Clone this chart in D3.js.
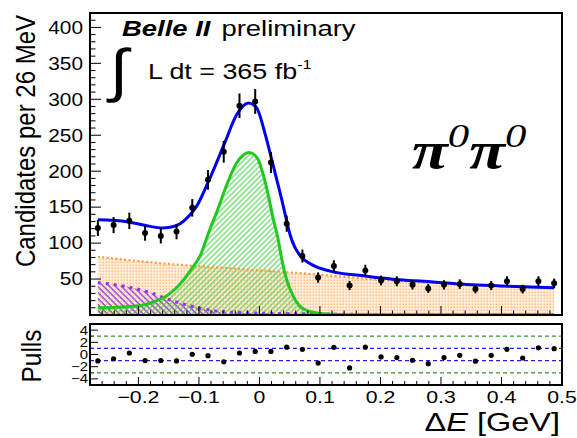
<!DOCTYPE html>
<html>
<head>
<meta charset="utf-8">
<script src="https://cdn.jsdelivr.net/npm/d3@7"></script>
<style>
  html, body { margin: 0; padding: 0; background: #fff; }
  svg { display: block; }
  text { font-family: "Liberation Sans", Arial, Helvetica, sans-serif; fill: #000; }
</style>
</head>
<body>
<svg id="chart" width="577" height="438"></svg>
<script>
// ΔE bin centres (26 MeV bins) and observed candidate counts
const binCenters = [-0.267, -0.241, -0.215, -0.189, -0.163, -0.137, -0.111, -0.085, -0.059, -0.033,
                    -0.007, 0.019, 0.045, 0.071, 0.097, 0.123, 0.149, 0.175, 0.201, 0.227,
                    0.253, 0.279, 0.305, 0.331, 0.357, 0.383, 0.409, 0.435, 0.461, 0.487];
const counts = [121, 125, 131, 114, 110, 116, 149, 188, 227, 291,
                297, 212, 127, 82, 52, 68, 41, 62, 48, 47,
                42, 37, 42, 43, 36, 41, 47, 36, 47, 44];
const countErrors = [11.0, 11.2, 11.4, 10.7, 10.5, 10.8, 12.2, 13.7, 15.1, 17.1,
                     17.2, 14.6, 11.3, 9.1, 7.2, 8.2, 6.4, 7.9, 6.9, 6.9,
                     6.5, 6.1, 6.5, 6.6, 6.0, 6.4, 6.9, 6.0, 6.9, 6.6];
const pulls = [-1.05, -0.7, 0.25, -1.0, -1.0, -1.05, 0.03, -0.2, -1.2, 0.25,
               0.5, 0.5, 1.2, 0.85, -1.4, 1.17, -2.2, 1.2, -0.4, -0.5,
               -0.94, -1.5, -0.5, -0.13, -1.1, -0.13, 0.85, -0.57, 1.1, 0.95];

// Fit components sampled along ΔE: [ΔE, candidates per bin]
const totalFit = [[-0.267,132.5],[-0.2415,131.7],[-0.214,129],[-0.186,124],[-0.159,121],[-0.142,123],
                  [-0.131,127],[-0.115,139],[-0.104,151],[-0.082,190],[-0.057,240],[-0.038,278],
                  [-0.018,295],[-0.0045,288],[0.009,253],[0.023,207],[0.037,160],[0.045,131],
                  [0.0505,112],[0.058,95],[0.067,83],[0.089,69],[0.117,61],[0.177,54],[0.232,49],
                  [0.287,46],[0.343,42.5],[0.398,40.5],[0.487,38]];
const signalFit = [[-0.267,10],[-0.2,13],[-0.173,19],[-0.151,28],[-0.129,45],[-0.113,63],[-0.096,86],
                   [-0.088,105],[-0.082,119],[-0.071,142],[-0.055,179],[-0.038,211],[-0.024,224],
                   [-0.018,226],[-0.010,224],[-0.002,216],[0.007,193],[0.015,165],[0.023,133],
                   [0.031,105],[0.037,77],[0.045,49],[0.056,26],[0.067,12],[0.083,5],[0.11,1.5],
                   [0.15,0.5],[0.3,0.3],[0.487,0.2]];
const bbBackground = [[-0.267,45],[-0.223,40],[-0.184,32],[-0.146,20.5],[-0.1015,10],[-0.065,5],
                      [-0.016,3],[0.05,2],[0.12,1.2],[0.25,0.5],[0.487,0.3]];
const continuum = [[-0.267,81],[-0.15,71],[-0.03,64],[0.07,58],[0.2,49],[0.35,42],[0.487,37.5]];

const xTicks = [-0.2, -0.1, 0, 0.1, 0.2, 0.3, 0.4, 0.5];
const yTicks = [50, 100, 150, 200, 250, 300, 350, 400];
const pullTicks = [4, 2, 0, -2, -4];
const pullBands = [3, 1, -1, -3];

const svg = d3.select("#chart");
const left = 90, right = 562, mainTop = 13, mainBottom = 315, pullTop = 324, pullBottom = 385;
const SX = 1.19;   // wide Helvetica-like lettering
const at = (px, py, sx = SX) => `translate(${px},${py}) scale(${sx},1)`;

const x = d3.scaleLinear().domain([-0.28, 0.5]).range([left, right]);
const y = d3.scaleLinear().domain([0, 420]).range([mainBottom, mainTop]);
const yp = d3.scaleLinear().domain([-5, 5]).range([pullBottom, pullTop]);

const defs = svg.append("defs");
defs.append("clipPath").attr("id", "mainClip").append("rect")
  .attr("x", left).attr("y", mainTop).attr("width", right - left).attr("height", mainBottom - mainTop);

// Fill patterns
const pOr = defs.append("pattern").attr("id", "orangeDots").attr("patternUnits", "userSpaceOnUse")
  .attr("width", 3).attr("height", 3);
pOr.append("rect").attr("width", 3).attr("height", 3).attr("fill", "#ffefe0");
pOr.append("rect").attr("x", 0.5).attr("y", 0.5).attr("width", 1.6).attr("height", 1.6).attr("fill", "#ffc28a");

const pGr = defs.append("pattern").attr("id", "greenHatch").attr("patternUnits", "userSpaceOnUse")
  .attr("width", 3.8).attr("height", 3.8).attr("patternTransform", "rotate(45)");
pGr.append("line").attr("x1", 0.8).attr("y1", 0).attr("x2", 0.8).attr("y2", 3.8)
  .attr("stroke", "#3ccc3c").attr("stroke-width", 1);

const pPu = defs.append("pattern").attr("id", "purpleHatch").attr("patternUnits", "userSpaceOnUse")
  .attr("width", 4.2).attr("height", 4.2).attr("patternTransform", "rotate(-45)");
pPu.append("line").attr("x1", 1).attr("y1", 0).attr("x2", 1).attr("y2", 4.2)
  .attr("stroke", "#9333ee").attr("stroke-width", 1.3);

const plot = svg.append("g").attr("clip-path", "url(#mainClip)");

const area = d3.area().x(d => x(d[0])).y0(y(0)).y1(d => y(d[1])).curve(d3.curveMonotoneX);
const line = d3.line().x(d => x(d[0])).y(d => y(d[1])).curve(d3.curveMonotoneX);

plot.append("path").datum(continuum).attr("d", area).attr("fill", "url(#orangeDots)");
plot.append("path").datum(bbBackground).attr("d", area).attr("fill", "url(#purpleHatch)");
plot.append("path").datum(signalFit).attr("d", area).attr("fill", "url(#greenHatch)");

plot.append("path").datum(continuum).attr("d", line).attr("fill", "none")
  .attr("stroke", "#ff9a3c").attr("stroke-width", 2.2).attr("stroke-dasharray", "2,2.4");
plot.append("path").datum(bbBackground).attr("d", line).attr("fill", "none")
  .attr("stroke", "#9333ee").attr("stroke-width", 3).attr("stroke-dasharray", "3,5");
plot.append("path").datum(signalFit).attr("d", line).attr("fill", "none")
  .attr("stroke", "#22c722").attr("stroke-width", 3);
plot.append("path").datum(totalFit).attr("d", line).attr("fill", "none")
  .attr("stroke", "#0000f0").attr("stroke-width", 3);

// Data points with Poisson error bars
const pts = plot.append("g");
pts.selectAll("line").data(binCenters).join("line")
  .attr("x1", d => x(d)).attr("x2", d => x(d))
  .attr("y1", (d, i) => y(counts[i] - countErrors[i]))
  .attr("y2", (d, i) => y(counts[i] + countErrors[i]))
  .attr("stroke", "#000").attr("stroke-width", 2);
pts.selectAll("circle").data(binCenters).join("circle")
  .attr("cx", d => x(d)).attr("cy", (d, i) => y(counts[i])).attr("r", 3).attr("fill", "#000");

// Inward (ROOT-style) ticks
function yTickMarks(values, scale, len) {
  svg.append("g").selectAll("line").data(values).join("line")
    .attr("x1", left).attr("x2", left + len).attr("y1", d => scale(d)).attr("y2", d => scale(d))
    .attr("stroke", "#000").attr("stroke-width", 1);
}
function xTickMarks(values, base, len) {
  svg.append("g").selectAll("line").data(values).join("line")
    .attr("x1", d => x(d)).attr("x2", d => x(d)).attr("y1", base).attr("y2", base - len)
    .attr("stroke", "#000").attr("stroke-width", 1);
}

const yMinor = d3.range(10, 420, 10).filter(v => v % 50 !== 0);
const xMinor = d3.range(-0.26, 0.5, 0.02).map(v => +v.toFixed(2))
  .filter(v => Math.abs(v * 10 - Math.round(v * 10)) > 1e-6);

yTickMarks(yTicks, y, 11);
yTickMarks(yMinor, y, 5.5);
xTickMarks(xTicks, mainBottom, 9);
xTickMarks(xMinor, mainBottom, 4.5);

svg.append("g").selectAll("text").data(yTicks).join("text")
  .attr("transform", d => at(83, y(d))).attr("dy", "0.36em")
  .attr("text-anchor", "end").attr("font-size", 17.5).text(d => d);

// Pull panel
yTickMarks([4, 2, 0, -2, -4], yp, 8);
yTickMarks([3, 1, -1, -3], yp, 4);
xTickMarks(xTicks, pullBottom, 8);
xTickMarks(xMinor, pullBottom, 4);

svg.append("g").selectAll("line").data(pullBands).join("line")
  .attr("x1", left).attr("x2", right).attr("y1", d => yp(d)).attr("y2", d => yp(d))
  .attr("stroke", d => Math.abs(d) === 3 ? "#2e962e" : "#1f1ff0")
  .attr("stroke-width", 1.2).attr("stroke-dasharray", "4,3");

svg.append("g").selectAll("circle").data(binCenters).join("circle")
  .attr("cx", d => x(d)).attr("cy", (d, i) => yp(pulls[i])).attr("r", 2.6).attr("fill", "#000");

svg.append("g").selectAll("text").data(pullTicks).join("text")
  .attr("transform", d => at(88, yp(d))).attr("dy", "0.36em")
  .attr("text-anchor", "end").attr("font-size", 12.5)
  .text(d => d < 0 ? "\u2212" + Math.abs(d) : d);

svg.append("g").selectAll("text").data(xTicks).join("text")
  .attr("transform", d => at(x(d), 403, 1.25)).attr("text-anchor", "middle").attr("font-size", 17)
  .text(d => d < 0 ? "\u2212" + Math.abs(d) : d);

// Frames
svg.append("rect").attr("x", left).attr("y", mainTop).attr("width", right - left)
  .attr("height", mainBottom - mainTop).attr("fill", "none").attr("stroke", "#000").attr("stroke-width", 2);
svg.append("rect").attr("x", left).attr("y", pullTop).attr("width", right - left)
  .attr("height", pullBottom - pullTop).attr("fill", "none").attr("stroke", "#000").attr("stroke-width", 2);

// Axis titles
svg.append("text").attr("transform", "translate(35,15) scale(1.12,1) rotate(-90)")
  .attr("text-anchor", "end").attr("font-size", 24).text("Candidates per 26 MeV");
svg.append("text").attr("transform", "translate(41,356) scale(1.15,1) rotate(-90)")
  .attr("text-anchor", "middle").attr("font-size", 24.5).text("Pulls");

const xt = svg.append("text").attr("transform", at(560, 431, 1.3)).attr("text-anchor", "end").attr("font-size", 25);
xt.append("tspan").text("\u0394");
xt.append("tspan").attr("font-style", "italic").text("E");
xt.append("tspan").text(" [GeV]");

// Labels inside the frame
const t1 = svg.append("text").attr("transform", at(122, 36, 1.22)).attr("font-size", 22.5);
t1.append("tspan").attr("font-weight", "bold").attr("font-style", "italic").text("Belle II");
t1.append("tspan").attr("dx", 9).text("preliminary");

svg.append("text").attr("transform", "translate(110,90) scale(1.15,1)").attr("font-size", 58)
  .attr("font-family", "'DejaVu Serif', serif").attr("font-style", "italic").text("\u222B");
const t2 = svg.append("text").attr("transform", at(148, 79, 1.25)).attr("font-size", 21.5);
t2.append("tspan").text("L dt = 365 fb");
t2.append("tspan").attr("font-size", 13).attr("dy", -10).text("-1");

const pp = svg.append("text").attr("transform", at(412, 168, 1.26))
  .style("font-family", "'Liberation Serif', 'Times New Roman', serif").attr("font-size", 52)
  .attr("font-style", "italic").attr("font-weight", "bold");
pp.append("tspan").text("\u03C0");
pp.append("tspan").attr("font-size", 34).attr("font-weight", "normal").attr("dy", -21).text("0");
pp.append("tspan").attr("dy", 21).text("\u03C0");
pp.append("tspan").attr("font-size", 34).attr("font-weight", "normal").attr("dy", -21).text("0");
</script>
</body>
</html>
